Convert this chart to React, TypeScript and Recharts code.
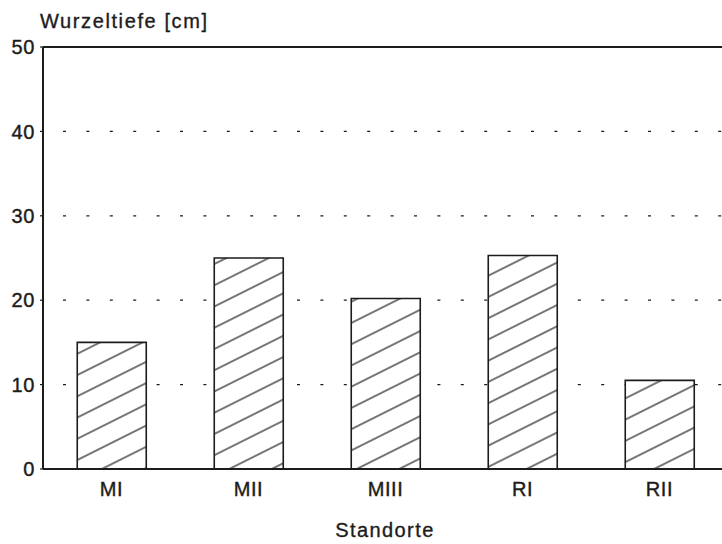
import React from "react";
import { BarChart, Bar, XAxis, YAxis, CartesianGrid, ReferenceLine } from "recharts";

const categories = ["MI", "MII", "MIII", "RI", "RII"];
const wurzeltiefe = [15, 25, 20.2, 25.3, 10.5];
const yTicks = [0, 10, 20, 30, 40, 50];

const data = categories.map((c, i) => ({ name: c, value: wurzeltiefe[i] }));

const FONT = "'Liberation Sans', Arial, Helvetica, sans-serif";
const INK = "#1c1c1c";

const tickStyle = { fontFamily: FONT, fontSize: 20, fill: INK, stroke: INK, strokeWidth: 0.4, letterSpacing: 0.6 };

export default function App() {
  return (
    <div style={{ position: "absolute", left: 0, top: 0, width: 722, height: 544, overflow: "hidden", background: "#fff" }}>
      <svg width={0} height={0} style={{ position: "absolute" }}>
        <defs>
          <pattern id="hatch" patternUnits="userSpaceOnUse" width={10} height={19} patternTransform="rotate(-26.57)">
            <rect x={0} y={0} width={10} height={19} fill="#fff" />
            <line x1={-1} y1={9} x2={11} y2={9} stroke={INK} strokeWidth={1.2} />
          </pattern>
        </defs>
      </svg>
      <BarChart
        width={745}
        height={544}
        data={data}
        margin={{ top: 47, right: 17, bottom: 45, left: 0 }}
        barCategoryGap="25%"
      >
        <CartesianGrid vertical={false} stroke={INK} strokeWidth={1.3} strokeDasharray="3 20.4" strokeDashoffset={3.4} />
        <XAxis
          dataKey="name"
          height={30}
          tickLine={false}
          tickSize={0}
          tickMargin={13}
          axisLine={{ stroke: INK, strokeWidth: 2 }}
          tick={tickStyle}
          interval={0}
        />
        <YAxis
          width={43}
          domain={[0, 50]}
          ticks={yTicks}
          tickSize={3}
          tickMargin={5}
          tickLine={{ stroke: INK, strokeWidth: 1.2 }}
          axisLine={{ stroke: INK, strokeWidth: 2 }}
          tick={tickStyle}
        />
        <ReferenceLine y={50} stroke={INK} strokeWidth={2} />
        <Bar dataKey="value" fill="url(#hatch)" stroke={INK} strokeWidth={1.6} isAnimationActive={false} />
      </BarChart>
      <svg width={722} height={544} style={{ position: "absolute", left: 0, top: 0, pointerEvents: "none" }}>
        <text x={40} y={28} fontFamily={FONT} fontSize={20} fill={INK} stroke={INK} strokeWidth={0.35} letterSpacing={1.6}>
          Wurzeltiefe [cm]
        </text>
        <text x={385} y={537} textAnchor="middle" fontFamily={FONT} fontSize={20} fill={INK} stroke={INK} strokeWidth={0.35} letterSpacing={1.4}>
          Standorte
        </text>
      </svg>
    </div>
  );
}
